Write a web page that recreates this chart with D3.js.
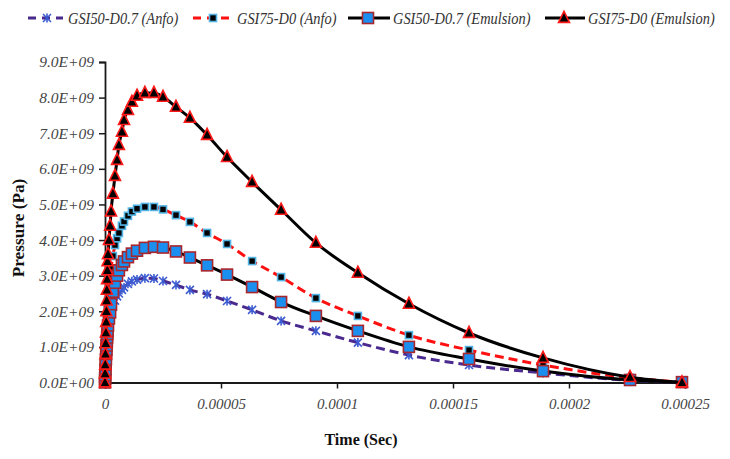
<!DOCTYPE html>
<html>
<head>
<meta charset="utf-8">
<script src="https://cdn.jsdelivr.net/npm/d3@7"></script>
<style>
  body { margin: 0; background: #fff; }
  svg { display: block; }
  text { font-family: "Liberation Serif", "Times New Roman", serif; }
</style>
</head>
<body>
<div id="chart"></div>
<script>
// time of each sample, in microseconds (shared by every series)
var timeUs = [0, 0.05, 0.1, 0.2, 0.3, 0.4, 0.5, 0.6, 0.7, 0.8, 0.9, 1.0, 1.1, 1.3, 1.7,
  2.2, 2.6, 3.4, 4.3, 5.2, 6.0, 7.3, 8.2, 9.9, 11.6, 13.8, 17.2, 21.1, 25.0, 30.6,
  36.6, 44.0, 52.6, 63.4, 75.9, 90.9, 109.0, 131.0, 156.9, 188.8, 226.3, 248.7];

// pressures, in units of 1E+09 Pa
var gsi50Anfo = [0, 0.08, 0.16, 0.28, 0.40, 0.52, 0.63, 0.73, 0.83, 0.92, 1.01, 1.09, 1.17, 1.30, 1.52,
  1.75, 1.90, 2.12, 2.30, 2.42, 2.50, 2.60, 2.67, 2.77, 2.84, 2.89, 2.93, 2.92, 2.85, 2.74,
  2.60, 2.48, 2.29, 2.04, 1.73, 1.45, 1.12, 0.77, 0.49, 0.27, 0.06, 0.01];
var gsi75Anfo = [0, 0.15, 0.30, 0.50, 0.70, 0.90, 1.10, 1.28, 1.45, 1.62, 1.78, 1.93, 2.07, 2.30, 2.60,
  2.95, 3.20, 3.55, 3.86, 4.05, 4.20, 4.40, 4.52, 4.68, 4.80, 4.88, 4.93, 4.93, 4.86, 4.70,
  4.51, 4.20, 3.89, 3.41, 2.96, 2.37, 1.87, 1.33, 0.91, 0.49, 0.13, 0.01];
var gsi50Emul = [0, 0.10, 0.20, 0.35, 0.50, 0.65, 0.80, 0.92, 1.04, 1.15, 1.26, 1.36, 1.45, 1.60, 1.80,
  1.97, 2.20, 2.55, 2.80, 3.00, 3.15, 3.30, 3.40, 3.52, 3.62, 3.70, 3.78, 3.81, 3.79, 3.68,
  3.51, 3.29, 3.03, 2.68, 2.26, 1.87, 1.45, 1.00, 0.66, 0.32, 0.07, 0.01];
var gsi75Emul = [0, 0.25, 0.50, 0.80, 1.10, 1.40, 1.70, 2.00, 2.30, 2.60, 2.90, 3.15, 3.40, 3.60, 4.00,
  4.40, 4.80, 5.30, 5.80, 6.25, 6.67, 7.04, 7.37, 7.65, 7.88, 8.05, 8.13, 8.13, 8.02, 7.74,
  7.43, 6.95, 6.33, 5.63, 4.85, 3.92, 3.08, 2.21, 1.39, 0.69, 0.15, 0];

var seriesNames = ["GSI50-D0.7 (Anfo)", "GSI75-D0 (Anfo)", "GSI50-D0.7 (Emulsion)", "GSI75-D0 (Emulsion)"];
var xTicks = [0, 0.00005, 0.0001, 0.00015, 0.0002, 0.00025];
var xTickLabels = ["0", "0.00005", "0.0001", "0.00015", "0.0002", "0.00025"];
var yTicks = [0, 1e9, 2e9, 3e9, 4e9, 5e9, 6e9, 7e9, 8e9, 9e9];
var yTickLabels = ["0.0E+00", "1.0E+09", "2.0E+09", "3.0E+09", "4.0E+09", "5.0E+09", "6.0E+09", "7.0E+09", "8.0E+09", "9.0E+09"];

var W = 730, H = 459;
var svg = d3.select("#chart").append("svg").attr("width", W).attr("height", H);

var x = d3.scaleLinear().domain([0, 0.00025]).range([105, 685]);
var y = d3.scaleLinear().domain([0, 9e9]).range([382.5, 62]);

var styles = [
  {line: "#4a2a8e", dash: "9,5", marker: "star", fill: "none", stroke: "#3c5bd0", size: 4},
  {line: "#ff1010", dash: "9,5", marker: "square", fill: "#000", stroke: "#52b4e4", size: 7},
  {line: "#000", dash: null, marker: "square", fill: "#1a8ff0", stroke: "#a8262c", size: 11},
  {line: "#000", dash: null, marker: "triangle", fill: "#000", stroke: "#ff1a1a", size: 11}
];

var allSeries = [gsi50Anfo, gsi75Anfo, gsi50Emul, gsi75Emul].map(function(vals, i){
  return {
    name: seriesNames[i],
    style: styles[i],
    points: vals.map(function(v, k){ return {t: timeUs[k] * 1e-6, p: v * 1e9}; })
  };
});

function drawMarker(g, st){
  if (st.marker === "star") {
    var s = st.size;
    g.append("path")
      .attr("d", "M" + (-s) + "," + (-s) + "L" + s + "," + s + "M" + (-s) + "," + s + "L" + s + "," + (-s) + "M0," + (-s - 0.5) + "L0," + (s + 0.5))
      .attr("stroke", st.stroke).attr("stroke-width", 1.6).attr("fill", "none");
  } else if (st.marker === "square") {
    g.append("rect")
      .attr("x", -st.size / 2).attr("y", -st.size / 2)
      .attr("width", st.size).attr("height", st.size)
      .attr("fill", st.fill).attr("stroke", st.stroke).attr("stroke-width", 1.6);
  } else {
    var h = st.size;
    g.append("path")
      .attr("d", "M0," + (-h * 0.6) + "L" + (h / 2) + "," + (h * 0.4) + "L" + (-h / 2) + "," + (h * 0.4) + "Z")
      .attr("fill", st.fill).attr("stroke", st.stroke).attr("stroke-width", 1.6);
  }
}

// axes
var yAxis = d3.axisLeft(y).tickValues(yTicks).tickSize(6).tickPadding(5)
  .tickFormat(function(d, i){ return yTickLabels[i]; });
var xAxis = d3.axisBottom(x).tickValues(xTicks).tickSize(6).tickPadding(10)
  .tickFormat(function(d, i){ return xTickLabels[i]; });

var gy = svg.append("g").attr("transform", "translate(105,0)").call(yAxis);
var gx = svg.append("g").attr("transform", "translate(0,382.5)").call(xAxis);
[gx, gy].forEach(function(g){
  g.select(".domain").attr("stroke", "#1a1a1a").attr("stroke-width", 1.8);
  g.selectAll(".tick line").attr("stroke", "#1a1a1a").attr("stroke-width", 1.5);
  g.selectAll(".tick text")
    .attr("fill", "#444").attr("font-size", 15.5).attr("font-style", "italic")
    .style("font-family", "'Liberation Serif', 'Times New Roman', serif");
});
gx.selectAll(".tick text").attr("font-size", 15);

// series
var line = d3.line().x(function(d){ return x(d.t); }).y(function(d){ return y(d.p); })
  .curve(d3.curveMonotoneX);

allSeries.forEach(function(s){
  var g = svg.append("g");
  g.append("path").datum(s.points)
    .attr("d", line).attr("fill", "none")
    .attr("stroke", s.style.line).attr("stroke-width", 3)
    .attr("stroke-dasharray", s.style.dash);
  g.selectAll("g.mk").data(s.points).enter().append("g")
    .attr("class", "mk")
    .attr("transform", function(d){ return "translate(" + x(d.t) + "," + y(d.p) + ")"; })
    .each(function(){ drawMarker(d3.select(this), s.style); });
});

// axis titles
svg.append("text").attr("x", 361).attr("y", 445).attr("text-anchor", "middle")
  .attr("font-weight", "bold").attr("font-size", 16).attr("fill", "#111")
  .text("Time (Sec)");
svg.append("text").attr("transform", "translate(24,228) rotate(-90) scale(1.08,1)").attr("text-anchor", "middle")
  .attr("font-weight", "bold").attr("font-size", 16).attr("fill", "#111")
  .text("Pressure (Pa)");

// legend
var legendLine = [[28, 63], [193, 232], [348, 390], [545, 585]];
var legendMark = [47, 213, 368, 564];
var legendText = [68, 237, 393, 588];
allSeries.forEach(function(s, i){
  var lg = svg.append("g").attr("transform", "translate(0,18)");
  lg.append("line").attr("x1", legendLine[i][0]).attr("x2", legendLine[i][1]).attr("y1", 0).attr("y2", 0)
    .attr("stroke", s.style.line).attr("stroke-width", 3)
    .attr("stroke-dasharray", s.style.dash ? "8,6" : null);
  var mk = lg.append("g").attr("transform", "translate(" + legendMark[i] + ",0)");
  drawMarker(mk, s.style);
  lg.append("text").attr("transform", "translate(" + legendText[i] + ",5.5) scale(0.9,1)")
    .attr("font-size", 16).attr("font-style", "italic").attr("fill", "#333")
    .text(s.name);
});
</script>
</body>
</html>
